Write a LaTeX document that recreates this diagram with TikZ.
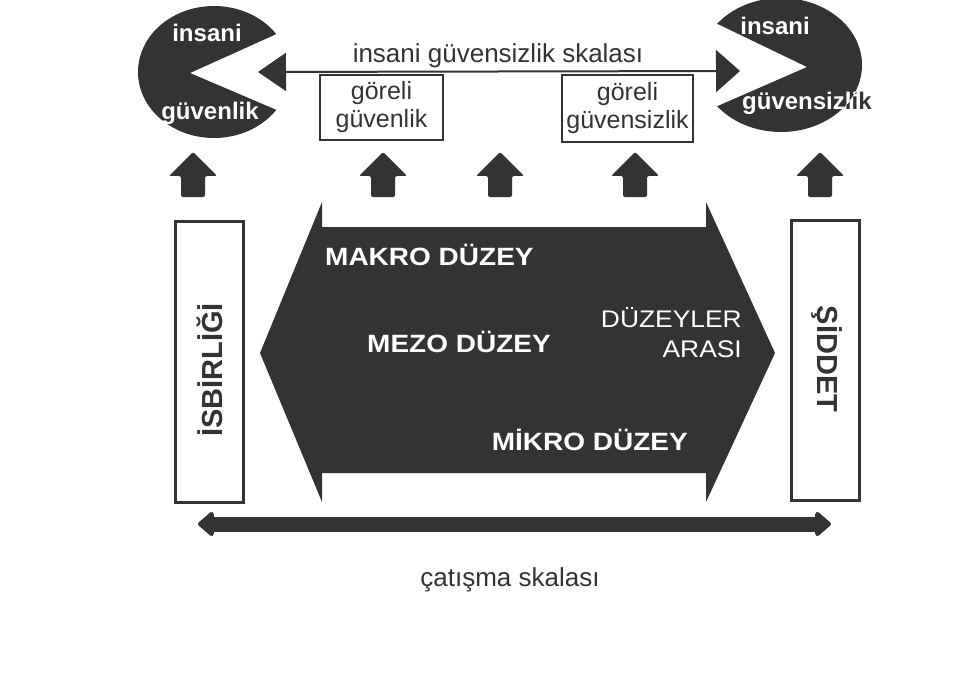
\documentclass[tikz,border=0pt]{standalone}
\usepackage{fontspec}
\setmainfont{Liberation Sans}
\usepackage{xcolor}
\usetikzlibrary{arrows.meta, positioning, calc}

\definecolor{darkgr}{RGB}{51,51,51}

\begin{document}
\begin{tikzpicture}[
        x=1pt, y=-1pt,
        dark/.style={fill=darkgr},
        upar/.style={fill=darkgr, rounded corners=2pt},
        sidebox/.style={draw=darkgr, line width=3pt, minimum width=68pt, inner sep=0pt},
        relbox/.style={draw=darkgr, line width=1.4pt, align=center, inner sep=0pt, text=darkgr,
            font=\fontsize{25}{28}\selectfont},
        lvl/.style={text=white, inner sep=0pt, font=\bfseries\addfontfeatures{FakeStretch=1.12}\fontsize{25}{30}\selectfont},
        lvlthin/.style={text=white, inner sep=0pt, anchor=base east, font=\addfontfeatures{FakeStretch=1.1}\fontsize{24}{28}\selectfont},
        pactext/.style={text=white, inner sep=0pt, font=\bfseries\fontsize{24}{28}\selectfont},
        vtext/.style={text=darkgr, inner sep=0pt, anchor=base, font=\bfseries\fontsize{29}{32}\selectfont},
        scaletext/.style={text=darkgr, inner sep=0pt, anchor=base, font=\fontsize{26}{30}\selectfont}
    ]
        \useasboundingbox (0,0) rectangle (979,687);

        % insani guvenlik (left)
        \fill[dark] (190,73) -- ($(214,72)+(35:76pt and 66pt)$)
            arc[start angle=35, end angle=325, x radius=76pt, y radius=66pt] -- cycle;
        \node[pactext, anchor=base] (insL) at (207,42) {insani};
        \node[pactext, anchor=base] (guvL) at (210,120) {güvenlik};

        % insani guvensizlik (right), text runs out of the shape
        \node[pactext, text=darkgr, anchor=base west] (guvR) at (742,110) {güvensizlik};
        \begin{scope}
            \clip (807,67) -- ($(781,65)+(142:81pt and 67pt)$)
                arc[start angle=142, end angle=-142, x radius=81pt, y radius=67pt] -- cycle;
            \fill[dark] (690,-5) rectangle (870,140);
            \node[pactext, anchor=base west] at (guvR.base west) {güvensizlik};
        \end{scope}
        \node[pactext, anchor=base] (insR) at (775,35) {insani};

        % top scale
        \coordinate (tipL) at (258,72);
        \coordinate (tipR) at (740,71);
        \draw[darkgr, line width=2pt, {Triangle[length=28pt, width=38pt]}-{Triangle[length=24pt, width=42pt]}] (tipL) -- (tipR);
        \node[scaletext] (topscale) at (498,63) {insani güvensizlik skalası};

        \node[relbox, minimum width=123pt, minimum height=65pt] (relG) at (381.5,107.5) {göreli\\güvenlik};
        \node[relbox, minimum width=131pt, minimum height=67pt] (relGs) at (627.5,108.5) {göreli\\güvensizlik};

        % up arrows
        \foreach \x in {193,383,500,635,820} {
            \fill[upar] (\x,152) -- (\x+24,176) -- (\x+12,176) -- (\x+12,197)
                -- (\x-12,197) -- (\x-12,176) -- (\x-24,176) -- cycle;
        }

        % levels
        \fill[dark] (322,202) -- (260,353) -- (322,502) -- (322,473) -- (706,473) -- (706,502)
            -- (775,353) -- (706,202) -- (706,227) -- (322,227) -- cycle;
        \node[lvl, anchor=base west] (makro) at (325,265) {MAKRO DÜZEY};
        \node[lvl, anchor=base west] (mezo) at (367,352) {MEZO DÜZEY};
        \node[lvl, anchor=base east] (mikro) at (688,450) {MİKRO DÜZEY};
        \node[lvlthin] (duz) at (742,327) {DÜZEYLER};
        \node[lvlthin] (arasi) at (742,357) {ARASI};

        % side boxes
        \node[sidebox, minimum height=281pt] (isb) at (209,361.5) {};
        \node[sidebox, minimum height=280pt] (sid) at (825,360) {};
        \node[vtext, rotate=90] (isbT) at (222,370) {İSBİRLİĞİ};
        \node[vtext, rotate=-90] (sidT) at (817,359) {ŞİDDET};

        % conflict scale
        \coordinate (catL) at (198,524);
        \coordinate (catR) at (831,524);
        \draw[darkgr, line width=15pt, {Triangle[length=17pt, width=28pt, round]}-{Triangle[length=17pt, width=28pt, round]}] (catL) -- (catR);
        \node[scaletext] (catscale) at (510,586) {çatışma skalası};
    \end{tikzpicture}
\end{document}
